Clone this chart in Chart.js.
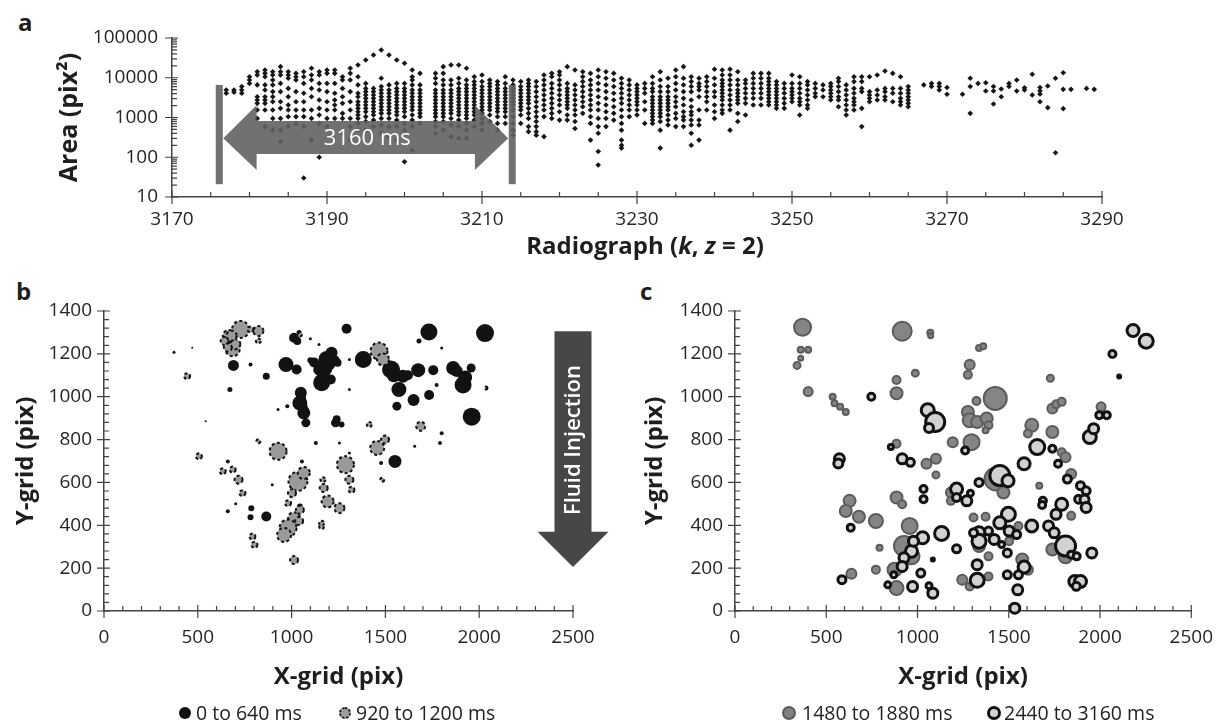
<!DOCTYPE html>
<html>
<head>
<meta charset="utf-8">
<title>Radiograph bubble growth</title>
<script src="https://cdn.jsdelivr.net/npm/chart.js"></script>
<style>
  body { margin:0; background:#fff; font-family:'Open Sans', sans-serif; color:#222; }
  #page { position:relative; width:1228px; height:722px; overflow:hidden; }
  .box { position:absolute; }
  .tag { position:absolute; font-weight:bold; font-size:24px; line-height:24px; color:#1e1e1e; }
  .item { position:absolute; top:701px; height:24px; font-size:19.5px; line-height:24px; white-space:nowrap; }
  .dot { position:absolute; top:6px; width:12px; height:12px; border-radius:50%; box-sizing:border-box; }
</style>
</head>
<body>
<div id="page">
  <div class="tag" style="left:18px; top:10px">a</div>
  <div class="tag" style="left:16px; top:279px">b</div>
  <div class="tag" style="left:640px; top:279px">c</div>

  <div class="box" style="left:0; top:0"><canvas id="chartA" width="1228" height="270"></canvas></div>
  <div class="box" style="left:0; top:285px"><canvas id="chartB" width="620" height="437"></canvas></div>
  <div class="box" style="left:620px; top:285px"><canvas id="chartC" width="608" height="437"></canvas></div>

  <div class="item" style="left:179px"><span class="dot" style="left:0; background:#111"></span><span style="margin-left:17px">0 to 640 ms</span></div>
  <div class="item" style="left:339px"><span class="dot" style="left:0; background:#9c9c9c; border:2px dotted #111"></span><span style="margin-left:17px">920 to 1200 ms</span></div>
  <div class="item" style="left:782px"><span class="dot" style="left:0; width:14px; height:14px; top:5px; background:#808080; border:2px solid #5c5c5c"></span><span style="margin-left:20px">1480 to 1880 ms</span></div>
  <div class="item" style="left:987px"><span class="dot" style="left:0; width:14px; height:14px; top:5px; background:#d2d2d2; border:3px solid #111"></span><span style="margin-left:17px">2440 to 3160 ms</span></div>
</div>
<script>
// panel a: pore area per radiograph
const radiographs = [3177,3178,3179,3180,3181,3182,3183,3184,3185,3186,3187,3188,3189,3190,3191,3192,3193,3194,3195,3196,3197,3198,3199,3200,3201,3202,
  3204,3205,3206,3207,3208,3209,3210,3211,3212,3213,3214,3215,3216,3217,3218,3219,3220,3221,3222,3223,3224,3225,3226,3227,3228,3229,3230,
  3231,3232,3233,3234,3235,3236,3237,3238,3239,3240,3241,3242,3243,3244,3245,3246,3247,3248,3249,3250,3251,3252,3253,3254,3255,3256,3257,
  3258,3259,3260,3261,3262,3263,3264,3265,3267,3268,3269,3270,3272,3273,3274,3275,3276,3277,3278,3279,3280,3281,3282,3283,3284,3285,3286,3288,3289];
const areas = [
  [4900,4060],[4900,4300],[6000,4900,4060],[10600,8800,7200],
  [14200,11700,6600,3340,2750,2270,1540,950],
  [15700,12900,10600,6600,4900,3340,2750,2270,1540,590],
  [14200,11700,8800,6600,4470,3340,2500,1540,950,480],
  [19000,14200,11700,7200,4470,2500,1700,950,480,250],
  [14200,11700,9700,5400,3340,2060,1540,1050,590],
  [12900,10600,8800,4470,2500,1540,1050,710],
  [14200,10600,7200,4060,2500,1540,1050,590,30],
  [17300,11700,8800,5400,3340,1540,950,270],
  [14200,11700,7200,4900,2750,1700,1160,710,100],
  [15700,12900,7200,4470,2500,1540,950,590],
  [15700,12900,7200,4060,2750,2060,1540,950],
  [10600,8800,5400,3340,2270,1270,950,400],
  [17300,12900,8800,4470,2500,1540,950,590,270],
  [21000,10600,6600,4060,3340,2500,2060,1700,1400,1160,950,710,480],
  [28000,7200,5400,4470,3680,3030,2500,2060,1700,1400,1050,790,480],
  [37300,5400,4470,3680,3030,2500,2060,1700,1400,1160,860,590],
  [50000,9700,6000,4900,4060,3340,2750,2270,1870,1540,1270,950,650,400],
  [37300,6600,4900,4060,3340,2750,2270,1870,1540,1270,950,590,330],
  [28000,7200,5400,4470,3680,3030,2500,2060,1700,1400,1160,860,590,270],
  [23100,7200,5400,4470,3680,3030,2500,2060,1700,1400,1050,710,480,77],
  [15700,10600,8800,6600,4900,4060,3340,2750,2270,1870,1540,1160,860,590,150],
  [12900,6600,4900,4060,3340,2750,2270,1870,1540,1270,1050,710],
  [12900,9700,7200,4900,4060,3340,2750,2270,1870,1540,1270,1050,790,590,400],
  [19000,12900,8800,6600,4900,4060,3340,2750,2270,1870,1540,1270,1050,790,480],
  [21000,8800,6600,4900,4060,3340,2750,2270,1870,1540,1270,950,650,330],
  [21000,9700,7200,5400,4470,3680,3030,2500,2060,1700,1400,1160,860,590,300],
  [17300,8800,6600,5400,4470,3680,3030,2500,2060,1700,1400,1160,950,710,480,300],
  [10600,8000,6600,5400,4470,3680,3030,2500,2060,1700,1400,1160,860,590],
  [11700,8000,6000,4900,4060,3340,2750,2270,1870,1540,1270,950,710,480],
  [8800,7200,6000,4900,4060,3340,2750,2270,1870,1540,1160,790],
  [8000,6600,5400,4470,3680,3030,2500,2060,1700,1400,1050,710,480],
  [10600,7200,5400,4470,3680,3030,2500,2060,1700,1400,1050,710],
  [8800,6600,5400,4470,3680,3030,2500,2060,1540,1050,710,480,360],
  [8000,6000,4900,4060,3340,2750,2270,1870,1540,1160,710],
  [8800,7200,6000,4900,4060,3340,2750,2270,1700,1270,950,590,440],
  [8000,6000,4470,3340,2500,1870,1400,1050,790,590,440,360],
  [11700,8800,6600,4900,3680,2750,2060,1540,1050,330],
  [12900,10600,7200,5400,4060,3030,2270,1700,1270,950],
  [14200,11700,8800,6600,4900,3680,2750,2060,1400,860],
  [19000,7200,5400,4470,3680,3030,2500,2060,1700,1160,860],
  [15700,6600,4900,3680,2750,2060,1540,1160,790,530],
  [14200,10600,8000,6000,4470,3340,2500,1870,1270],
  [12900,8800,6600,4900,3680,2750,2060,1540,1050,710,270],
  [15700,10600,7200,4900,3340,2270,1540,950,590,400,140,64],
  [14200,9700,6600,4470,3030,2060,1400,950,590],
  [12900,8800,6000,4060,2750,1870,1270,860],
  [9700,7200,5400,4060,3030,2270,1540,1050,710,480,270,200,170],
  [8800,6600,4900,3680,2750,2060,1540,1050],
  [6600,5400,4470,3680,3030,2500,2060,1540,1160],
  [7200,5400,4060,2500,1540,710],
  [10600,7200,5400,4470,3340,2750,2270,1870,1540,1270,1050,860,710],
  [14200,8800,6000,4470,3340,2750,2270,1870,1540,1270,1050,790,480,170],
  [9700,6000,4470,3340,2750,2270,1870,1540,1160,860,650],
  [15700,10600,7200,4900,3340,2500,1870,1270,950,590],
  [19000,9700,6600,4470,3030,2060,1400,1050,860,590],
  [10600,8000,6000,4470,2750,1870,1400,1160,860,650,400,200],
  [9700,7200,6000,4900,3340,1540,860,650,270],
  [10600,8000,6000,4470,3340,2500,1540],
  [16300,9700,6600,4470,3340,2060,1400,950],
  [15700,11700,8800,7200,6000,4900,4060,3340,2750,2060,1540,1270],
  [16300,11700,8800,6600,4900,3680,2750,2060,1540,480],
  [14200,8800,6600,4900,4060,3340,2750,2270,1270,790],
  [8800,7200,5400,4060,3030,2270,1160],
  [12900,9700,7200,5400,4060,3030,2060],
  [12900,9700,7200,5400,4060,3030,2060],
  [12900,9700,8000,6600,5400,4470,3680,3030,2500,2060],
  [8000,6600,5400,4470,3680,3030,2500,2060,1700],
  [7200,5400,4060,3030,2270,1700],
  [11700,7200,5400,4470,3680,3030,2500],
  [10600,7200,5400,4060,3030,2500,2060,1160],
  [8000,6600,4900,3680,2750,2060,1700],
  [7200,5400,4060,3340],
  [6600,4900,3340],
  [7200,6000,4900,4060,3340,2750],
  [9700,8000,6000,4470,3340,2750,1870],
  [6600,4900,3680,2750,2060,1540,1160],
  [10600,8000,5400,4060,3030,2500,2060,1540],
  [10600,8000,5400,4470,1700,590],
  [10600,4470,3680,3030,2500],
  [11700,4900,3680,2750],
  [14800,5400,4470,3340,2750],
  [12900,5400,4060,2500],
  [10600,5400,4060,3030,2500,2060],
  [6000,4900,4060,3340,2750,2270,1870],
  [6600],[7200,6000],[7200,6000,4900],[5700,3830],[3830],[9700,6000,1270],[7200],[7500,4650],
  [6000,4650,2190],[5200,3340],[7200,6000],[8800,4650],[5600,4900],[12200,3680],[5700,4700,3900,2500],
  [6200,1770],[9700,130],[13400,5100,1670],[5100],[5400],[5100]
];

// panels b and c: bubble centre x, centre y (pix) and plotted radius
const early0to640 = [
  [1732,1302,8.5],[2031,1297,9],[1960,907,9],[1914,1055,8.5],[1861,1134,7],[1957,1134,4.5],[1755,1124,5],[1675,1124,7],
  [1733,1008,5],[1650,985,6],[1773,1055,2],[1800,1227,1.5],[1679,1260,2.5],[690,1146,5.5],[671,1034,2.5],[781,1150,2],
  [865,1096,3.5],[970,1150,7.5],[1027,1127,5],[1013,1275,5],[1040,1300,2.5],[1100,1270,1.5],[1146,1244,1.5],[1293,1317,5],
  [1150,1127,6.5],[1188,1174,8.5],[1213,1205,6],[1160,1065,8.5],[1209,1080,5],[1245,1158,4],[1049,1018,6],[1044,971,7.5],
  [1065,925,6.5],[1076,878,4.5],[1234,878,4.5],[1266,870,3],[1382,1174,8.5],[1530,1127,9],[1572,1034,7.5],[1593,1096,6.5],
  [1561,956,4.5],[1308,1174,1.5],[1308,1034,1.5],[1656,769,1.5],[1551,698,6.5],[373,1208,1.5],[470,1229,1],[542,886,1],
  [660,698,2],[1477,691,2],[1055,698,2],[1308,737,1.5],[1129,784,2],[1255,784,1.5],[928,940,1.5],[977,956,2],
  [897,589,1.5],[702,500,1.5],[865,441,5],[785,480,3],[781,438,3],[1791,784,2],[1800,830,2],[1044,488,3],[660,465,2],
  [1120,1160,5],[1180,1130,7],[1230,1170,5],[1170,1100,6],[1200,1150,6],[1050,1000,5],[1060,950,5],[1545,1100,7],
  [1620,1100,5],[1880,1120,6],[1925,1090,7],[1100,1170,3],[1030,1260,4],[1240,895,4]
];
const mid920to1200 = [
  [728,1314,8.5],[665,1283,6],[686,1221,7],[643,1260,4],[823,1307,5],[781,1314,3],[823,1260,2.5],[1466,1213,8.5],
  [1487,1174,6],[443,1096,3],[506,722,3],[633,652,3],[686,660,3],[717,613,4],[738,550,3],[928,745,8.5],
  [1034,605,9.5],[1065,644,6],[1002,550,4],[1013,433,6],[981,387,8.5],[960,355,7],[1013,238,4],[791,348,3],
  [802,309,3],[1287,683,8.5],[1308,613,4],[1319,566,3],[1192,511,6],[1255,480,5],[1160,394,2.5],[1456,761,7],
  [1498,800,4],[1688,862,4.5],[1171,574,4],[1167,613,2.5],[1414,870,2.5],[2036,1041,1.5],[981,503,3],[1044,472,4],
  [1483,613,2],[823,792,2],[1160,410,2.5],[1044,1290,2],[700,1245,5],[660,1230,4],[680,1285,5],[1040,420,4]
];
const late1480to1880 = [
  [370,1324,8.5],[916,1306,9.5],[1070,1298,3],[1072,1285,2.5],[340,1146,3.5],[360,1219,3],[401,1219,3],[360,1180,2.5],
  [401,1024,4.5],[535,1000,3],[545,969,3],[576,953,3],[607,929,3],[885,1016,6],[885,1078,4],[988,1110,3.5],
  [1337,1227,3],[1360,1235,3],[1286,1149,5],[1276,1102,4],[1426,992,11.5],[1323,980,4],[1276,929,6],[1286,890,7],
  [1327,882,6],[1379,898,6],[1389,867,4],[1373,843,3],[1296,788,8],[1193,788,5],[1101,710,5],[1049,687,5],
  [1101,635,3.5],[885,781,4],[1626,867,6.5],[1605,828,4],[1739,835,6],[1739,945,5],[1760,965,4],[1790,976,4],
  [1728,1086,3.5],[2006,953,4.5],[1790,741,4],[1811,718,5],[1842,639,5],[1667,585,3],[1430,616,11.5],[1471,553,6],
  [1183,553,5],[1183,514,4],[885,530,6],[916,498,4],[628,514,6],[607,467,6],[679,440,6],[772,420,7],
  [792,295,3],[772,193,4],[638,174,5],[957,397,8],[926,303,10],[967,255,8],[874,193,7],[885,107,7],
  [1307,436,4],[1373,440,4],[1337,303,6],[1389,255,4],[1389,161,4],[1245,146,5],[1286,114,4],[1574,240,6],
  [1605,193,5],[1739,287,6],[1811,255,7],[1842,444,4],[1553,397,4],[1502,326,4]
];
const late2440to3160 = [
  [2181,1309,6],[2253,1259,7],[2068,1199,3.5],[2105,1094,1.5],[747,1000,3.5],[1056,937,6.5],[1097,882,9.5],[1063,854,4.5],
  [854,765,2.5],[916,710,5],[961,694,4],[1261,749,3.5],[572,710,5],[566,688,4.5],[634,389,3.5],[1033,569,3.5],
  [1033,522,3.5],[1214,569,6],[1214,530,4],[1270,514,5],[1290,550,3],[1337,600,4],[1451,632,10],[1496,608,6],
  [1584,687,6],[1656,765,7.5],[1739,757,3.5],[1770,687,3.5],[1821,616,4],[1893,585,4],[1924,561,4],[1883,522,4],
  [1915,520,4.5],[1924,483,5],[1790,498,6],[1759,451,5],[1687,514,3.5],[1683,495,3.5],[1944,812,6.5],[1965,851,5],
  [1996,914,3.5],[2037,914,3.5],[1498,451,7],[1451,412,6],[1502,373,5],[1626,397,6],[1718,397,5],[1749,365,5],
  [1811,303,10],[1842,263,3.5],[1872,255,3.5],[1955,271,5],[1862,138,6],[1893,138,6],[1870,115,4],[1543,357,4],
  [1492,271,4],[1461,310,3],[1584,205,6],[1553,169,4],[1492,169,4],[1549,99,5],[1533,13,5],[1337,365,6],
  [1337,326,7],[1307,365,4],[1389,373,4],[1420,334,5],[1327,216,5],[1327,143,7],[1214,290,4],[1132,362,7],
  [1028,342,6],[1018,177,4],[973,114,5],[1084,83,5],[1063,118,3],[1084,240,1.5],[967,279,6],[978,326,5],
  [926,248,5],[916,208,5],[870,169,3],[837,122,3],[586,146,4]
];

Chart.defaults.font.family = "'Open Sans', sans-serif";
Chart.defaults.color = '#262626';

const range = (a, b, s) => { const r = []; for (let v = a; v <= b + 1e-9; v += s) r.push(v); return r; };
const toBubbles = arr => arr.map(p => ({x: p[0], y: p[1], r: p[2]}));

const pointsA = [];
radiographs.forEach((k, i) => areas[i].forEach(v => pointsA.push({x: k, y: v})));

// tick marks: majors cross the axis, minors point inward
const axisMarks = {
  id: 'axisMarks',
  afterDraw(chart, args, o) {
    const {ctx, chartArea: ca, scales: {x, y}} = chart;
    ctx.save();
    ctx.strokeStyle = '#444';
    ctx.lineWidth = 1.2;
    ctx.beginPath();
    o.xMajor.forEach(v => { const p = x.getPixelForValue(v); ctx.moveTo(p, ca.bottom - 6); ctx.lineTo(p, ca.bottom + 7); });
    o.xMinor.forEach(v => { const p = x.getPixelForValue(v); ctx.moveTo(p, ca.bottom - 5); ctx.lineTo(p, ca.bottom); });
    o.yMajor.forEach(v => { const p = y.getPixelForValue(v); ctx.moveTo(ca.left - 7, p); ctx.lineTo(ca.left + 6, p); });
    o.yMinor.forEach(v => { const p = y.getPixelForValue(v); ctx.moveTo(ca.left, p); ctx.lineTo(ca.left + 5, p); });
    ctx.stroke();
    ctx.restore();
  }
};

// dashed outline for a dataset
const dashedRings = {
  id: 'dashedRings',
  beforeDatasetDraw(chart, args) {
    const ds = chart.data.datasets[args.index];
    chart.ctx.save();
    if (ds.ringDash) chart.ctx.setLineDash(ds.ringDash);
  },
  afterDatasetDraw(chart) { chart.ctx.restore(); }
};

// "3160 ms" double arrow between two bars
const spanArrow = {
  id: 'spanArrow',
  afterDatasetsDraw(chart, args, o) {
    const {ctx, scales: {x, y}} = chart;
    const xl = x.getPixelForValue(o.from), xr = x.getPixelForValue(o.to);
    const bt = y.getPixelForValue(o.barTop), bb = y.getPixelForValue(o.barBottom);
    const st = y.getPixelForValue(o.shaftTop), sb = y.getPixelForValue(o.shaftBottom);
    const ht = y.getPixelForValue(o.headTop), hb = y.getPixelForValue(o.headBottom);
    const my = y.getPixelForValue(o.mid);
    const hl = x.getPixelForValue(o.from + o.head) - xl;
    ctx.save();
    ctx.fillStyle = 'rgba(98,98,98,0.9)';
    ctx.fillRect(xl - 3.5, bt, 7, bb - bt);
    ctx.fillRect(xr - 3.5, bt, 7, bb - bt);
    const a = xl + 4, b = xr - 4;
    ctx.beginPath();
    ctx.moveTo(a, my);
    ctx.lineTo(a + hl, ht); ctx.lineTo(a + hl, st); ctx.lineTo(b - hl, st); ctx.lineTo(b - hl, ht);
    ctx.lineTo(b, my);
    ctx.lineTo(b - hl, hb); ctx.lineTo(b - hl, sb); ctx.lineTo(a + hl, sb); ctx.lineTo(a + hl, hb);
    ctx.closePath();
    ctx.fill();
    ctx.fillStyle = '#fff';
    ctx.font = "22px 'Open Sans'";
    ctx.textAlign = 'center';
    ctx.textBaseline = 'middle';
    ctx.fillText(o.label, x.getPixelForValue(o.labelAt), my);
    ctx.restore();
  }
};

// x title with italic symbols
const mixedTitle = {
  id: 'mixedTitle',
  afterDraw(chart, args, o) {
    const ctx = chart.ctx;
    ctx.save();
    ctx.fillStyle = '#1e1e1e';
    ctx.textBaseline = 'middle';
    const fonts = o.parts.map(p => (p[1] ? 'italic ' : '') + "bold 24px 'Open Sans'");
    const widths = o.parts.map((p, i) => { ctx.font = fonts[i]; return ctx.measureText(p[0]).width; });
    const total = widths.reduce((s, w) => s + w, 0);
    let cx = o.cx - total / 2;
    o.parts.forEach((p, i) => { ctx.font = fonts[i]; ctx.fillText(p[0], cx, o.y); cx += widths[i]; });
    ctx.restore();
  }
};

// "Fluid Injection" down arrow
const flowArrow = {
  id: 'flowArrow',
  afterDatasetsDraw(chart, args, o) {
    const {ctx, scales: {x, y}} = chart;
    const cx = x.getPixelForValue(o.at);
    const top = y.getPixelForValue(o.top), base = y.getPixelForValue(o.base), tip = y.getPixelForValue(o.tip);
    ctx.save();
    ctx.fillStyle = '#474747';
    ctx.beginPath();
    ctx.moveTo(cx - 18.5, top); ctx.lineTo(cx + 18.5, top); ctx.lineTo(cx + 18.5, base);
    ctx.lineTo(cx + 35.5, base); ctx.lineTo(cx, tip); ctx.lineTo(cx - 35.5, base); ctx.lineTo(cx - 18.5, base);
    ctx.closePath();
    ctx.fill();
    ctx.translate(cx, y.getPixelForValue(o.labelAt));
    ctx.rotate(-Math.PI / 2);
    ctx.fillStyle = '#fff';
    ctx.font = "600 22px 'Open Sans'";
    ctx.textAlign = 'center';
    ctx.textBaseline = 'middle';
    ctx.fillText(o.label, 0, 1);
    ctx.restore();
  }
};

const tickFont = {size: 19};
const axisBorder = {display: true, color: '#444', width: 1.5};
const noGrid = {display: false, drawTicks: false};
const plain = v => String(v);

new Chart(document.getElementById('chartA'), {
  type: 'scatter',
  data: {datasets: [{data: pointsA, pointStyle: 'rectRot', radius: 2.8, backgroundColor: '#161616', borderWidth: 0}]},
  options: {
    responsive: false, animation: false, events: [],
    layout: {padding: {left: 51, right: 126, top: 38, bottom: 0}},
    scales: {
      x: {type: 'linear', min: 3170, max: 3290, grid: noGrid, border: axisBorder,
          ticks: {stepSize: 20, padding: 11, font: tickFont, callback: plain, maxRotation: 0, autoSkip: false},
          afterFit: s => { s.height = 73; }},
      y: {type: 'logarithmic', min: 10, max: 100000, grid: noGrid, border: axisBorder,
          ticks: {padding: 14, font: tickFont, autoSkip: false, callback: v => /^10*$/.test(String(v)) ? String(v) : ''},
          title: {display: true, text: 'Area (pix²)', color: '#1e1e1e', font: {size: 25, weight: 'bold'}, padding: {top: 4, bottom: 4}},
          afterFit: s => { s.width = 121; }}
    },
    plugins: {
      legend: {display: false}, tooltip: {enabled: false},
      axisMarks: {xMajor: range(3170, 3290, 20), xMinor: range(3175, 3285, 5),
                  yMajor: [10, 100, 1000, 10000, 100000],
                  yMinor: [10, 100, 1000, 10000].flatMap(d => range(2, 9, 1).map(m => m * d))},
      spanArrow: {from: 3176.1, to: 3213.9, barTop: 6600, barBottom: 21, shaftTop: 820, shaftBottom: 120,
                  headTop: 2040, headBottom: 48, mid: 300, head: 4.3, label: '3160 ms', labelAt: 3195.2},
      mixedTitle: {cx: 645, y: 247, parts: [['Radiograph (', false], ['k', true], [', ', false], ['z', true], [' = 2)', false]]}
    }
  },
  plugins: [axisMarks, spanArrow, mixedTitle]
});

function gridScales(yWidth) {
  return {
    x: {type: 'linear', min: 0, max: 2500, grid: noGrid, border: axisBorder,
        ticks: {stepSize: 500, padding: 15, font: tickFont, callback: plain, maxRotation: 0, autoSkip: false},
        title: {display: true, text: 'X-grid (pix)', color: '#1e1e1e', font: {size: 24, weight: 'bold'}, padding: {top: 4, bottom: 5}},
        afterFit: s => { s.height = 86; }},
    y: {type: 'linear', min: 0, max: 1400, grid: noGrid, border: axisBorder,
        ticks: {stepSize: 200, padding: 12, font: tickFont, callback: plain, autoSkip: false},
        title: {display: true, text: 'Y-grid (pix)', color: '#1e1e1e', font: {size: 24, weight: 'bold'}, padding: {top: 4, bottom: 4}},
        afterFit: s => { s.width = yWidth; }}
  };
}
const gridMarks = {xMajor: range(0, 2500, 500), xMinor: range(100, 2400, 100), yMajor: range(0, 1400, 200), yMinor: range(40, 1360, 40)};

new Chart(document.getElementById('chartB'), {
  type: 'bubble',
  data: {datasets: [
    {label: '0 to 640 ms', data: toBubbles(early0to640), backgroundColor: '#121212', borderColor: '#121212', borderWidth: 0, order: 1, clip: false},
    {label: '920 to 1200 ms', data: toBubbles(mid920to1200), backgroundColor: '#9a9a9a', borderColor: '#111', borderWidth: 2, ringDash: [3, 2.5], order: 0, clip: false}
  ]},
  options: {
    responsive: false, animation: false, events: [],
    layout: {padding: {left: 8, right: 47, top: 26, bottom: 25}},
    scales: gridScales(96),
    plugins: {
      legend: {display: false}, tooltip: {enabled: false},
      axisMarks: gridMarks,
      flowArrow: {at: 2500, top: 1305, base: 370, tip: 205, label: 'Fluid Injection', labelAt: 798}
    }
  },
  plugins: [axisMarks, dashedRings, flowArrow]
});

new Chart(document.getElementById('chartC'), {
  type: 'bubble',
  data: {datasets: [
    {label: '1480 to 1880 ms', data: toBubbles(late1480to1880), backgroundColor: '#858585', borderColor: '#5c5c5c', borderWidth: 2, order: 1, clip: false},
    {label: '2440 to 3160 ms', data: toBubbles(late2440to3160), backgroundColor: '#d2d2d2', borderColor: '#111', borderWidth: 3, order: 0, clip: false}
  ]},
  options: {
    responsive: false, animation: false, events: [],
    layout: {padding: {left: 17, right: 23, top: 26, bottom: 25}},
    scales: gridScales(98),
    plugins: {legend: {display: false}, tooltip: {enabled: false}, axisMarks: gridMarks}
  },
  plugins: [axisMarks, dashedRings]
});
</script>
</body>
</html>
